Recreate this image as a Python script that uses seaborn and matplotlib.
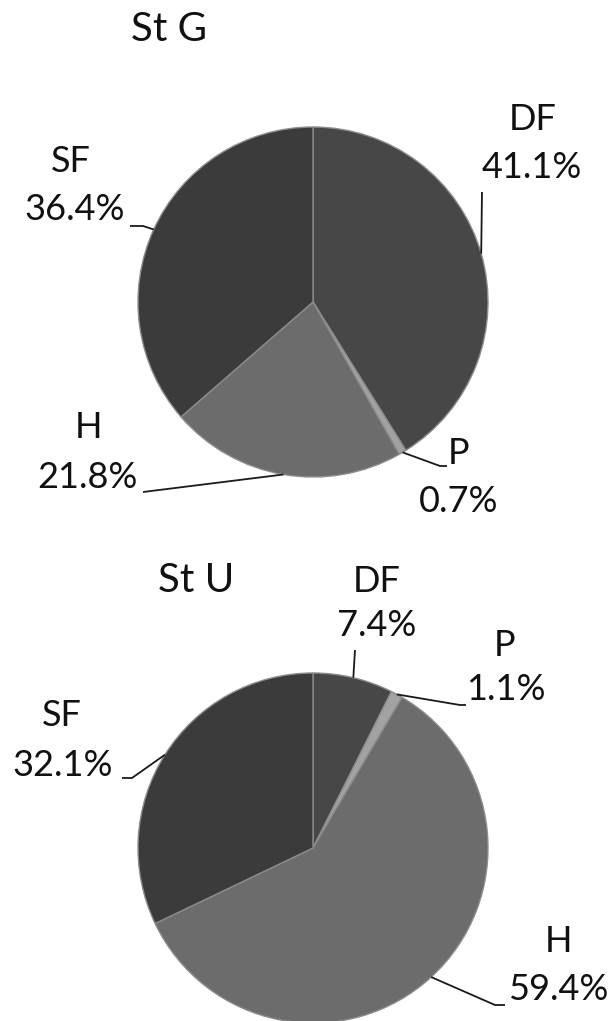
import numpy as np
import matplotlib
matplotlib.use("Agg")
import matplotlib.pyplot as plt
import seaborn as sns

# Share of each category per station (percent)
categories = ["DF", "P", "H", "SF"]
st_g_values = [41.1, 0.7, 21.8, 36.4]
st_u_values = [7.4, 1.1, 59.4, 32.1]
titles = ["St G", "St U"]

sns.set_theme(style="white")
plt.rcParams["font.family"] = ["Lato", "DejaVu Sans"]

slice_colors = {"DF": "#474747", "P": "#a2a2a2", "H": "#6c6c6c", "SF": "#3b3b3b"}
palette = sns.color_palette([slice_colors[c] for c in categories])

W, H = 613, 1021
fig = plt.figure(figsize=(W / 100, H / 100), dpi=100)
ax = fig.add_axes([0, 0, 1, 1])


def Y(y):
    # pixel-style y (from top) to data y (from bottom)
    return H - y


RADIUS = 175
pies = [
    {
        "values": st_g_values,
        "title": titles[0],
        "title_pos": (169, 30),
        "center": (313, 302),
        "labels": {"DF": ((533, 120), (532, 168)),
                   "P": ((459, 453), (459, 502)),
                   "H": ((88, 428), (87, 477)),
                   "SF": ((71, 162), (75, 210))},
        # leader path beyond the wedge edge point
        "leaders": {"DF": [(482, 192)],
                    "P": [(440, 466), (447, 466)],
                    "H": [(143, 492)],
                    "SF": [(143, 226), (130, 226)]},
    },
    {
        "values": st_u_values,
        "title": titles[1],
        "title_pos": (196, 581),
        "center": (313, 848),
        "labels": {"DF": ((377, 581), (377, 625)),
                   "P": ((505, 646), (506, 690)),
                   "H": ((559, 941), (558, 990)),
                   "SF": ((62, 715), (63, 765))},
        "leaders": {"DF": [(355, 650)],
                    "P": [(460, 705), (466, 705)],
                    "H": [(495, 1005), (505, 1005)],
                    "SF": [(132, 778), (122, 778)]},
    },
]

for spec in pies:
    cx, cy = spec["center"]
    wedges, _ = ax.pie(
        spec["values"],
        colors=palette,
        startangle=90,
        counterclock=False,
        center=(cx, Y(cy)),
        radius=RADIUS,
        wedgeprops=dict(edgecolor="#8c8c8c", linewidth=1.0),
    )
    for cat, val, w in zip(categories, spec["values"], wedges):
        mid = np.deg2rad((w.theta1 + w.theta2) / 2)
        ex = cx + RADIUS * np.cos(mid)
        ey = Y(cy) + RADIUS * np.sin(mid)
        path = [(ex, ey)] + [(px, Y(py)) for px, py in spec["leaders"][cat]]
        xs, ys = zip(*path)
        ax.plot(xs, ys, color="#1a1a1a", lw=1.3, solid_capstyle="butt")
        (nx, ny), (vx, vy) = spec["labels"][cat]
        ax.text(nx, Y(ny), cat, ha="center", va="center", fontsize=26, color="#111111")
        ax.text(vx, Y(vy), f"{val:.1f}%", ha="center", va="center", fontsize=26, color="#111111")
    tx, ty = spec["title_pos"]
    ax.text(tx, Y(ty), spec["title"], ha="center", va="center", fontsize=29, color="#111111")

ax.set_xlim(0, W)
ax.set_ylim(0, H)
ax.set_aspect("equal")
ax.axis("off")

fig.savefig("out.png", dpi=100, facecolor="white")
